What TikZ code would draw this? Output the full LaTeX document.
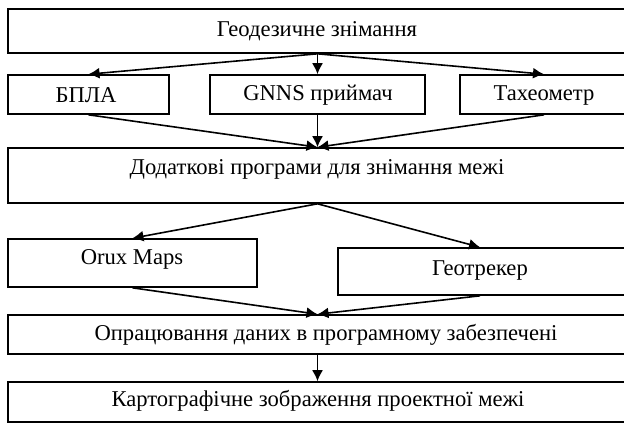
\documentclass[tikz,border=0pt]{standalone}
\usepackage{fontspec}
\setmainfont{Liberation Serif}
\usetikzlibrary{arrows.meta}
\usetikzlibrary{positioning}
\usetikzlibrary{fit}
\newcommand\mybox[8]{%
  \node[mybox,fit={(#2,#3) (#4,#5)}] (#1) {};
  \node[mytext] (#1T) at (#6,#7) {#8};
}

\begin{document}
\begin{tikzpicture}[x=0.5pt, y=-0.5pt,
>={Latex[length=5.5pt,width=5.5pt]},
mybox/.style={
  draw,
  line width=0.8pt,
  inner sep=0pt},
mytext/.style={
  inner sep=1pt,
  font=\fontsize{11.3}{13}\selectfont},
myarrow/.style={->, line width=0.8pt}
]
\path[use as bounding box, clip] (0,0) rectangle (624,424);
\mybox{survey}{8}{9}{628}{53}{317}{31}{Геодезичне знімання}
\mybox{bpla}{8}{75}{169}{114}{86}{95}{БПЛА}
\mybox{gnns}{210}{75}{425}{114}{318}{95}{GNNS приймач}
\mybox{tacheo}{460}{75}{628}{114}{544}{95}{Тахеометр}
\mybox{apps}{8}{148}{628}{203}{317}{169}{Додаткові програми для знімання межі}
\mybox{orux}{8}{239}{257}{287}{132}{259}{Orux Maps}
\mybox{geotrek}{338}{248}{628}{295}{480}{270}{Геотрекер}
\mybox{process}{8}{315}{628}{354}{326}{335}{Опрацювання даних в програмному забезпечені}
\mybox{mapping}{8}{382}{628}{422}{318}{401}{Картографічне зображення проектної межі}
% first level
\draw [myarrow] (survey.south -| gnns) -- (bpla.north);
\draw [myarrow] (survey.south -| gnns) -- (gnns.north);
\draw [myarrow] (survey.south -| gnns) -- (tacheo.north -| tacheoT);
\draw [myarrow] (bpla.south) -- (apps.north -| gnns);
\draw [myarrow] (gnns.south) -- (apps.north -| gnns);
\draw [myarrow] (tacheo.south -| tacheoT) -- (apps.north -| gnns);
% programs
\draw [myarrow] (apps.south -| gnns) -- (orux.north);
\draw [myarrow] (apps.south -| gnns) -- (geotrek.north -| geotrekT);
\draw [myarrow] (orux.south) -- (process.north -| gnns);
\draw [myarrow] (geotrek.south -| geotrekT) -- (process.north -| gnns);
\draw [myarrow] (process.south -| gnns) -- (mapping.north -| gnns);
\end{tikzpicture}
\end{document}
